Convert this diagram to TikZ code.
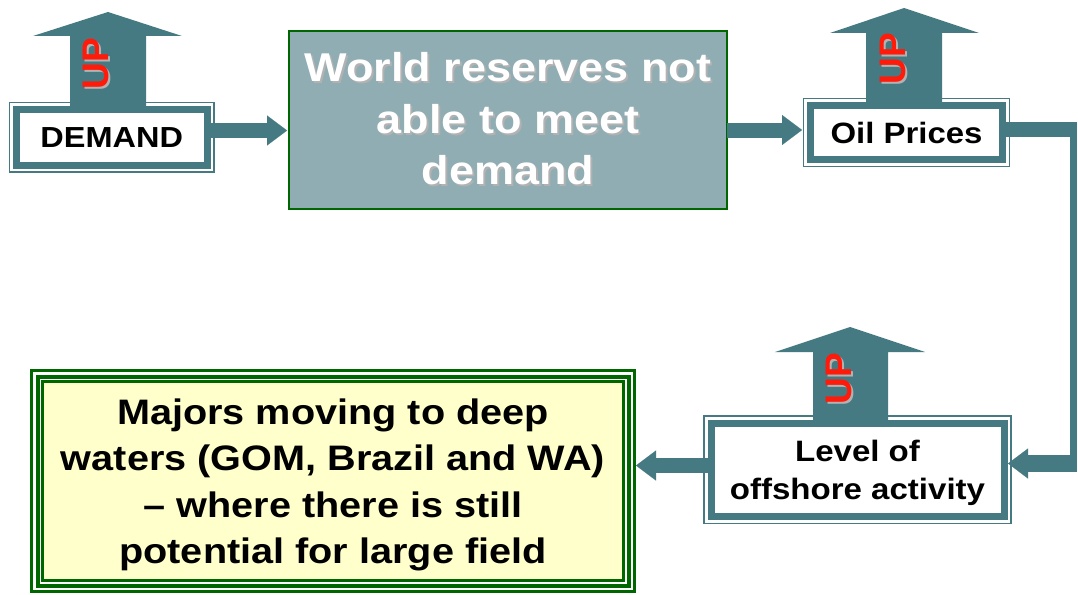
\documentclass[tikz,border=0pt]{standalone}
\usepackage{fontspec}
\setmainfont{Liberation Sans}
\newfontfamily\boxfont[FakeStretch=1.12]{Liberation Sans}
\newfontfamily\upfont{Liberation Sans}
\usetikzlibrary{arrows.meta,calc}

\definecolor{arrowteal}{HTML}{467A82}
\definecolor{boxgrey}{HTML}{8FADB2}
\definecolor{framegreen}{HTML}{006600}
\definecolor{paleyellow}{HTML}{FFFFCC}
\definecolor{upred}{HTML}{FF1A0A}
\definecolor{shadowgrey}{HTML}{B2B2B2}

% text with a grey drop shadow: #1 = shift along the line, #2 = raise
\newcommand\shadowed[3]{\rlap{\kern#1\raisebox{#2}{\color{shadowgrey}#3}}#3}

\tikzset{
  upframe/.style={draw=arrowteal, line width=7pt, fill=white, inner sep=0pt, outer sep=0pt},
  thinframe/.style={draw=arrowteal, line width=1.5pt},
  flow/.style={draw=arrowteal, line width=15pt, line cap=butt,
    -{Triangle[length=20pt,width=30pt,line width=0.1pt]}},
  upshape/.style={fill=arrowteal},
  uplabel/.style={rotate=90, inner sep=0pt, outer sep=0pt, text=upred,
    font=\upfont\bfseries\fontsize{37}{37}\selectfont},
  boxtext/.style={align=center, text=black},
  ring/.style={draw=framegreen, inner sep=0pt, outer sep=0pt},
}

\begin{document}
\begin{tikzpicture}[x=1pt,y=-1pt]
\useasboundingbox (0,0) rectangle (1078,594);

% ---- DEMAND ----
\node[upframe, minimum width=190.5pt, minimum height=55.5pt,
      font=\boxfont\bfseries\fontsize{29}{35}\selectfont] (dem) at (111.75,137.25) {DEMAND};
\draw[thinframe] ($(dem.south west)+(-7,7)$) rectangle ($(dem.north east)+(7,-7)$);
\fill[upshape] (70,110) -- (70,36) -- (33,36) -- (108,12) -- (182,36) -- (146,36) -- (146,110) -- cycle;
\node[uplabel] (demup) at (97,64) {\shadowed{-1.5pt}{-2pt}{UP}};

% ---- World reserves ----
\node[draw=framegreen, line width=1.5pt, fill=boxgrey, inner sep=0pt, outer sep=0pt,
      minimum width=438pt, minimum height=178pt, align=center, text=white,
      font=\boxfont\bfseries\fontsize{40.2}{51.5}\selectfont] (world) at (508,120)
  {\shadowed{2pt}{-2pt}{World reserves not}\\\shadowed{2pt}{-2pt}{able to meet}\\\shadowed{2pt}{-2pt}{demand}};

% ---- Oil Prices ----
\node[upframe, minimum width=192pt, minimum height=54pt,
      font=\boxfont\bfseries\fontsize{29.4}{35}\selectfont] (oil) at (906.5,132.5) {Oil Prices};
\draw[thinframe] ($(oil.south west)+(-7,7)$) rectangle ($(oil.north east)+(7,-7)$);
\fill[upshape] (866,105) -- (866,33) -- (830,33) -- (904,8) -- (979,33) -- (942,33) -- (942,105) -- cycle;
\node[uplabel] (oilup) at (894,59) {\shadowed{-1.5pt}{-2pt}{UP}};

% ---- Level of offshore activity ----
\node[upframe, minimum width=293pt, minimum height=93.5pt, boxtext, text depth=0pt,
      font=\boxfont\bfseries\fontsize{29.5}{37.5}\selectfont] (lev) at (857.5,469.75)
  {Level of\\offshore activity};
\draw[thinframe] ($(lev.south west)+(-7,7)$) rectangle ($(lev.north east)+(7,-7)$);
\fill[upshape] (813,423) -- (813,352) -- (775,352) -- (850,327) -- (925,352) -- (888,352) -- (888,423) -- cycle;
\node[uplabel] (levup) at (840,379) {\shadowed{-1.5pt}{-2pt}{UP}};

% ---- Majors moving to deep waters ----
\node[ring, line width=3pt, minimum width=603pt, minimum height=221pt] (majring) at (333,481) {};
\node[ring, line width=4pt, minimum width=591pt, minimum height=209pt] (majmid) at (333,481) {};
\node[ring, line width=3pt, fill=paleyellow, minimum width=581pt, minimum height=199pt,
      boxtext, text depth=0pt, font=\boxfont\bfseries\fontsize{35.4}{46.5}\selectfont] (maj) at (333,481)
  {Majors moving to deep\\waters (GOM, Brazil and WA)\\– where there is still\\potential for large field};

% ---- connectors ----
\coordinate (demout) at ([yshift=6.75pt]dem.east);
\draw[flow, shorten >=2pt] (demout) -- (demout -| world.west);
\coordinate (oilin) at ([xshift=-8.5pt,yshift=2.5pt]oil.west);
\draw[flow] (world.east |- oilin) -- (oilin);

\coordinate (turnA) at (1077,129.5);
\coordinate (turnB) at (1077,463.5);
\draw[arrowteal, line width=15pt] ([yshift=3pt]oil.east) -- (turnA);
\draw[arrowteal, line width=7pt] ([xshift=-3.5pt,yshift=7.5pt]turnA) -- ([xshift=-3.5pt,yshift=-8.5pt]turnB);
\draw[flow, line width=17pt] (turnB) -- ([xshift=4pt,yshift=6.25pt]lev.east);

\coordinate (levout) at ([yshift=4.25pt]lev.west);
\draw[flow, shorten >=1.5pt] (levout) -- (levout -| majring.east);
\end{tikzpicture}
\end{document}
